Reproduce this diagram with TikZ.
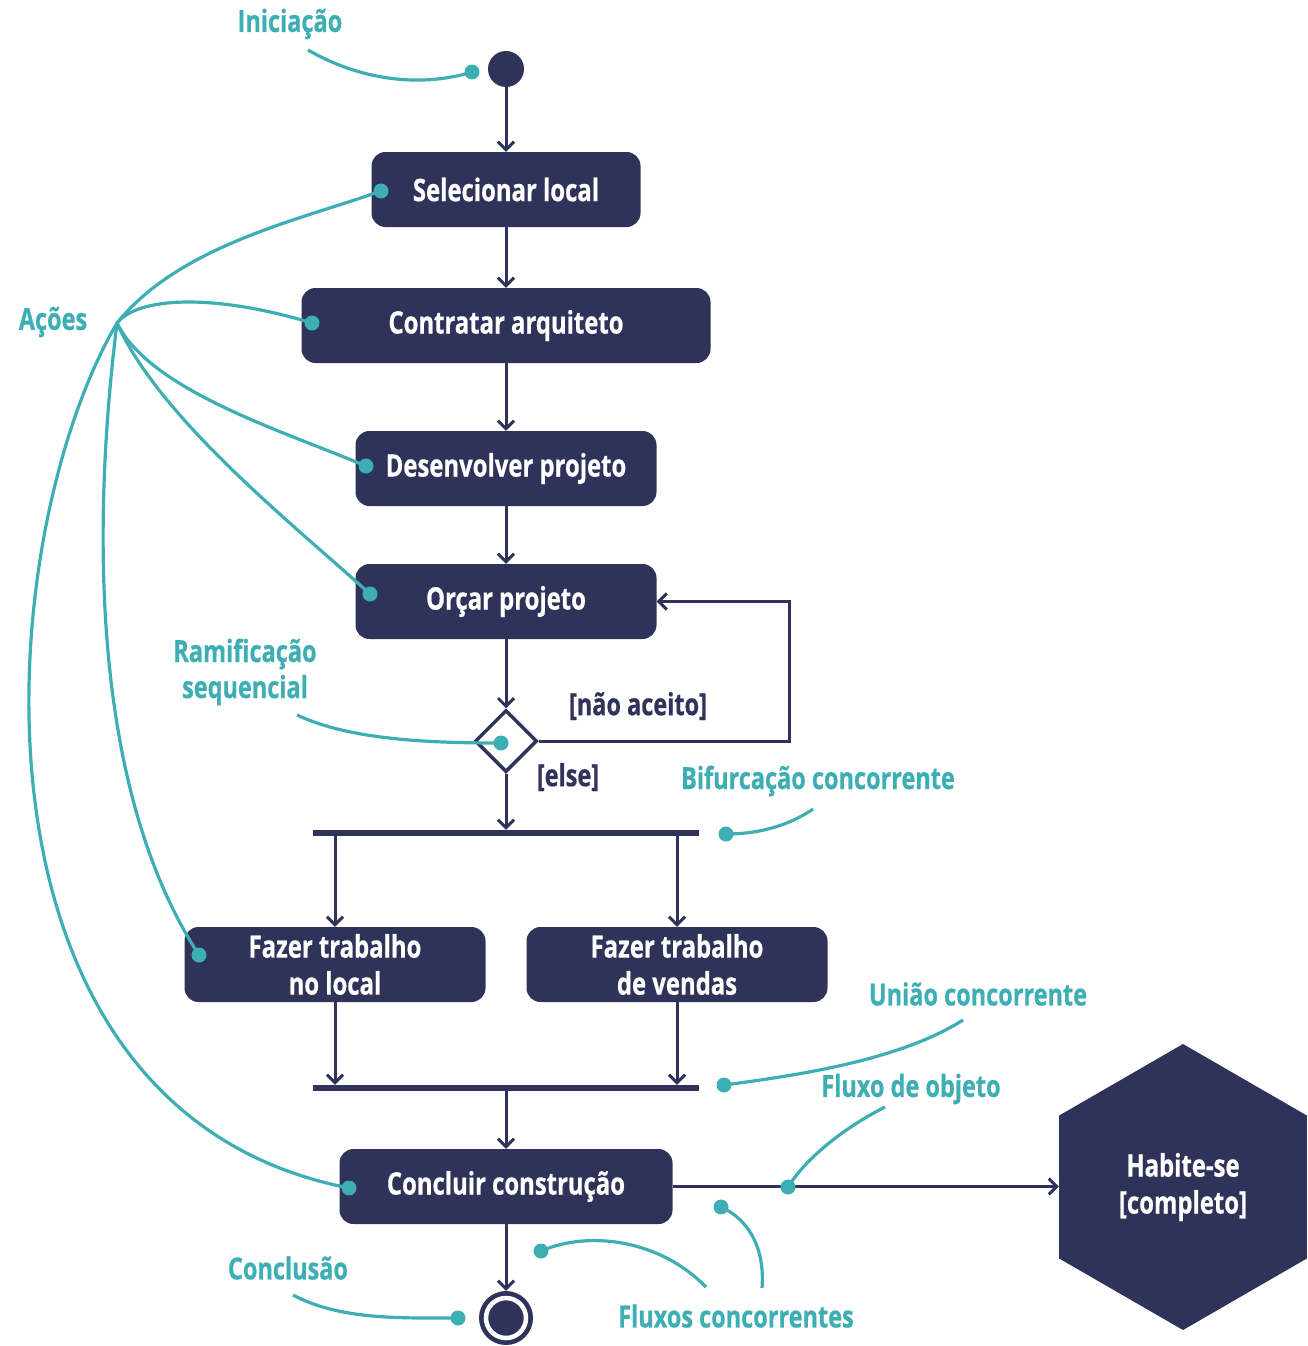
\documentclass[tikz,border=0pt]{standalone}
\usepackage{fontspec}
\setmainfont{Open Sans}[FakeStretch=0.77, BoldFeatures={FakeBold=0.6}]
\usetikzlibrary{arrows.meta,shapes.geometric}
\definecolor{navy}{HTML}{2F3359}
\definecolor{anncol}{HTML}{3DAEB4}
\newcommand\bxfont{\fontsize{31}{37}\selectfont\bfseries}
\newcommand\lbfont{\fontsize{30.5}{36}\selectfont\bfseries}
\begin{document}
\begin{tikzpicture}[x=1pt,y=-1pt,
  act/.style={rectangle, rounded corners=14pt, fill=navy, text=white, font=\bxfont, minimum height=75pt, inner sep=0pt, align=center},
  flow/.style={draw=navy, line width=3pt, -{Straight Barb[length=8pt,width=16pt]}},
  ann/.style={draw=anncol, line width=3.2pt},
  dot/.style={circle, fill=anncol, minimum size=15pt, inner sep=0pt},
  lab/.style={text=anncol, font=\lbfont, inner sep=0pt, align=center},
  edl/.style={text=navy, font=\lbfont, inner sep=0pt},
  bar/.style={fill=navy, minimum width=386pt, minimum height=6pt, inner sep=0pt}]
\useasboundingbox (0,0) rectangle (1308,1346);

% nodes
\node[circle, fill=navy, minimum size=36pt, inner sep=0pt] (start) at (506,69) {};
\node[act, minimum width=269pt] (sel) at (506,189.5) {Selecionar local};
\node[act, minimum width=409pt] (con) at (506,325.5) {Contratar arquiteto};
\node[act, minimum width=301pt] (des) at (506,468.5) {Desenvolver projeto};
\node[act, minimum width=301pt] (orc) at (506,601.5) {Orçar projeto};
\node[diamond, draw=navy, line width=3.5pt, fill=white, minimum width=62pt, minimum height=62pt, inner sep=0pt] (dia) at (506,741) {};
\node[bar] (fork) at (506,833) {};
\node[act, minimum width=301pt] (fl) at (335,964.5) {Fazer trabalho\\no local};
\node[act, minimum width=301pt] (fv) at (677,964.5) {Fazer trabalho\\de vendas};
\node[bar] (join) at (506,1088) {};
\node[act, minimum width=333pt] (cc) at (506,1186.5) {Concluir construção};
\node[circle, fill=navy, minimum size=54pt, inner sep=0pt] (end) at (506,1318) {};
\draw[white, line width=4.5pt] (end.center) circle (20pt);
\node[regular polygon, regular polygon sides=6, shape border rotate=30, minimum size=286pt, fill=navy, inner sep=0pt, text=white, font=\bxfont, align=center] (hab) at (1183,1187) {Habite-se\\{}[completo]};

% flows
\draw[flow] (start) -- (sel);
\draw[flow] (sel) -- (con);
\draw[flow] (con) -- (des);
\draw[flow] (des) -- (orc);
\draw[flow] (orc) -- (dia);
\coordinate (loop) at (789,601.5);
\draw[flow] (dia.east) -| (loop) -- (orc.east);
\draw[flow] (dia.south) -- (fork.north);
\draw[flow] (fork.south -| fl.north) -- (fl.north);
\draw[flow] (fork.south -| fv.north) -- (fv.north);
\draw[flow] (fl.south) -- (fl.south |- join.north);
\draw[flow] (fv.south) -- (fv.south |- join.north);
\draw[flow] (join.south) -- (cc.north);
\draw[flow] (cc.south) -- (end.north);
\draw[flow] (cc.east) -- (cc.east -| hab.west);

\node[edl] (lna) at (638,706) {[não aceito]};
\node[edl] (lel) at (568,777) {[else]};

% annotation labels
\node[lab] (tini) at (290,24) {Iniciação};
\node[lab] (tac) at (53,322) {Ações};
\node[lab] (tram) at (245,672) {Ramificação\\sequencial};
\node[lab] (tbif) at (818,781) {Bifurcação concorrente};
\node[lab] (tuni) at (978,994) {União concorrente};
\node[lab] (tobj) at (911,1089) {Fluxo de objeto};
\node[lab] (tcon) at (736,1316) {Fluxos concorrentes};
\node[lab] (tfim) at (288,1268) {Conclusão};

% annotation dots
\node[dot] (di) at (472,72) {};
\node[dot] (dsel) at (381,191) {};
\node[dot] (dcon) at (312,323) {};
\node[dot] (ddes) at (366,466) {};
\node[dot] (dorc) at (370,594) {};
\node[dot] (dfl) at (199,955) {};
\node[dot] (dcc) at (349,1188) {};
\node[dot] (ddia) at (501,743) {};
\node[dot] (dfork) at (726,834) {};
\node[dot] (djoin) at (724,1085) {};
\node[dot] (dobj) at (788,1187) {};
\node[dot] (dc1) at (541,1251) {};
\node[dot] (dc2) at (721,1207) {};
\node[dot] (dend) at (458,1318) {};

% annotation curves
\coordinate (a0) at (308,50);
\draw[ann] (a0) .. controls (360,80) and (420,88) .. (di.center);
\coordinate (hub) at (117,323);
\draw[ann] (hub) .. controls (180,245) and (300,220) .. (dsel.center);
\draw[ann] (hub) .. controls (140,295) and (220,295) .. (dcon.center);
\draw[ann] (hub) .. controls (150,390) and (280,430) .. (ddes.center);
\draw[ann] (hub) .. controls (160,420) and (300,530) .. (dorc.center);
\draw[ann] (hub) .. controls (95,500) and (85,780) .. (dfl.center);
\draw[ann] (hub) .. controls (-10,540) and (-50,1110) .. (dcc.center);
\coordinate (a1) at (297,715);
\draw[ann] (a1) .. controls (350,740) and (430,743) .. (ddia.center);
\coordinate (a2) at (813,809);
\draw[ann] (a2) .. controls (790,825) and (760,834) .. (dfork.center);
\coordinate (a3) at (963,1020);
\draw[ann] (a3) .. controls (900,1060) and (800,1075) .. (djoin.center);
\coordinate (a4) at (885,1107);
\draw[ann] (a4) .. controls (840,1130) and (805,1160) .. (dobj.center);
\coordinate (a5) at (706,1287);
\draw[ann] (a5) .. controls (660,1240) and (590,1230) .. (dc1.center);
\coordinate (a6) at (762,1288);
\draw[ann] (a6) .. controls (765,1250) and (750,1220) .. (dc2.center);
\coordinate (a7) at (293,1295);
\draw[ann] (a7) .. controls (340,1320) and (400,1318) .. (dend.center);
\end{tikzpicture}
\end{document}
